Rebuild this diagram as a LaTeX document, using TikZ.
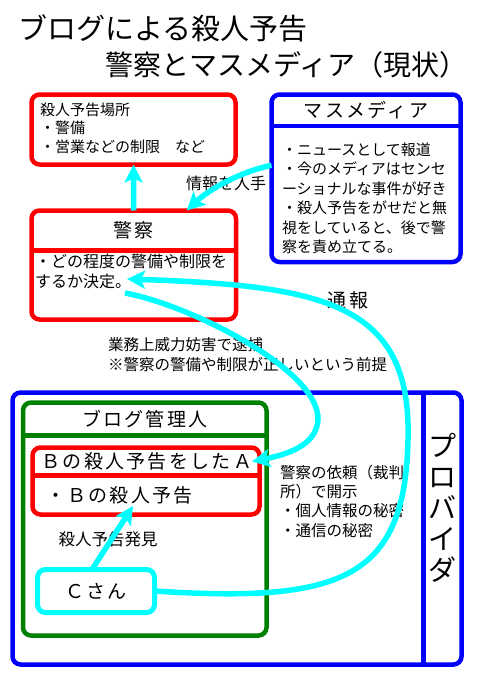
\documentclass[tikz,border=0pt]{standalone}
\usepackage{fontspec}
\setmainfont{Noto Sans CJK JP}
\newfontfamily\headfont[LetterSpace=12]{Noto Sans CJK JP}
\usetikzlibrary{arrows.meta,bending,positioning}
\definecolor{aqua}{RGB}{0,255,255}
\definecolor{pureblue}{RGB}{0,0,255}
\definecolor{purered}{RGB}{255,0,0}
\definecolor{darkgreen}{RGB}{0,128,0}

\begin{document}
\begin{tikzpicture}[
  x=1pt,y=-1pt,
  every node/.style={font=\fontsize{15}{19.5}\selectfont,inner sep=0pt,outer sep=0pt},
  frame/.style={draw,rounded corners=8pt,line width=4.5pt,anchor=north west},
  head/.style={font=\headfont\fontsize{19}{22}\selectfont,anchor=north},
  txt/.style={align=left,anchor=north west},
  arr/.style={aqua,line width=5.5pt,-{Stealth[length=18pt,width=18pt,inset=4pt]}}
]
\useasboundingbox (0,0) rectangle (480,677);
% title
\node[anchor=west,font=\fontsize{29}{32}\selectfont] (title1) at (18,28) {ブログによる殺人予告};
\node[anchor=west,font=\fontsize{28}{32}\selectfont] (title2) at (105,65) {警察とマスメディア（現状）};

% police side
\node[frame,purered,minimum width=204pt,minimum height=70pt] (place) at (31.5,94.5) {};
\node[txt,font=\fontsize{15}{18.5}\selectfont] (placetext) at (40,102.5) {殺人予告場所\\・警備\\・営業などの制限　など};

\node[frame,purered,minimum width=204.5pt,minimum height=109pt] (police) at (31.5,210.5) {};
\node[head,minimum height=40pt] (policehead) at (police.north) {警察};
\draw[purered,line width=4.5pt] (police.west |- policehead.south) -- (police.east |- policehead.south);
\node[txt,font=\fontsize{16}{20}\selectfont] (policetext) at (35,254) {・どの程度の警備や制限を\\するか決定。};

% media
\node[frame,pureblue,minimum width=189pt,minimum height=167.5pt] (media) at (271.5,94.5) {};
\node[head,minimum height=31.5pt] (mediahead) at (media.north) {マスメディア};
\draw[pureblue,line width=4.5pt] (media.west |- mediahead.south) -- (media.east |- mediahead.south);
\node[txt] (mediatext) at (282,142.5) {・ニュースとして報道\\・今のメディアはセンセ\\ーショナルな事件が好き\\・殺人予告をがせだと無\\視をしていると、後で警\\察を責め立てる。};

% provider and blog
\node[frame,pureblue,minimum width=449pt,minimum height=272pt] (provider) at (12.5,392.5) {};
\draw[pureblue,line width=4.5pt] ([xshift=-38pt]provider.north east) -- ([xshift=-38pt]provider.south east);
\node[font=\fontsize{28}{31}\selectfont,align=center] (providername) at (442.5,508) {プ\\ロ\\バ\\イ\\ダ};
\node[txt,font=\fontsize{15.5}{19.3}\selectfont] (disclose) at (280,465) {警察の依頼（裁判\\所）で開示\\・個人情報の秘密\\・通信の秘密};

\node[frame,darkgreen,minimum width=243.5pt,minimum height=233pt] (blog) at (23,402.5) {};
\node[head,minimum height=33pt] (bloghead) at (blog.north) {ブログ管理人};
\draw[darkgreen,line width=4.5pt] (blog.west |- bloghead.south) -- (blog.east |- bloghead.south);

\node[frame,purered,minimum width=227pt,minimum height=67pt] (post) at (32.5,447.5) {};
\node[head,minimum height=28pt,anchor=north west] (posthead) at ([xshift=9pt]post.north west) {Ｂの殺人予告をしたＡ};
\draw[purered,line width=4.5pt] (post.west |- posthead.south) -- (post.east |- posthead.south);
\node[head,anchor=west] (postbody) at (46,495) {・Ｂの殺人予告};

\node[frame,aqua,text=black,line width=5pt,minimum width=117pt,minimum height=43pt,font=\headfont\fontsize{19}{22}\selectfont] (cman) at (37.5,569.5) {Ｃさん};

% labels
\node[font=\fontsize{16}{20}\selectfont] (getinfo) at (226,183) {情報を入手};
\node[head,anchor=center] (tsuho) at (348,300) {通報};
\node[txt,font=\fontsize{15.5}{20}\selectfont] (arrestnote) at (108,337) {業務上威力妨害で逮捕\\※警察の警備や制限が正しいという前提};
\node[font=\fontsize{16.5}{20}\selectfont] (found) at (108,539) {殺人予告発見};

\coordinate (report) at (127,279);
\coordinate (arrest) at (125,293);
\coordinate (notice) at (133,506);

% arrows
\draw[arr] (police.north) -- (place.south);
\draw[arr] ([yshift=13pt]media.west) .. controls (240,172) and (205,190) .. ([xshift=53pt]police.north);
\draw[arr] (cman.east) .. controls (340,603) and (405,580) .. (408,440) .. controls (412,300) and (320,285) .. (report);
\draw[arr] (arrest) .. controls (190,305) and (320,370) .. (318,420) .. controls (316,445) and (290,455) .. (posthead.east);
\draw[arr] ([xshift=-4pt]cman.north) -- (notice);
\end{tikzpicture}
\end{document}
